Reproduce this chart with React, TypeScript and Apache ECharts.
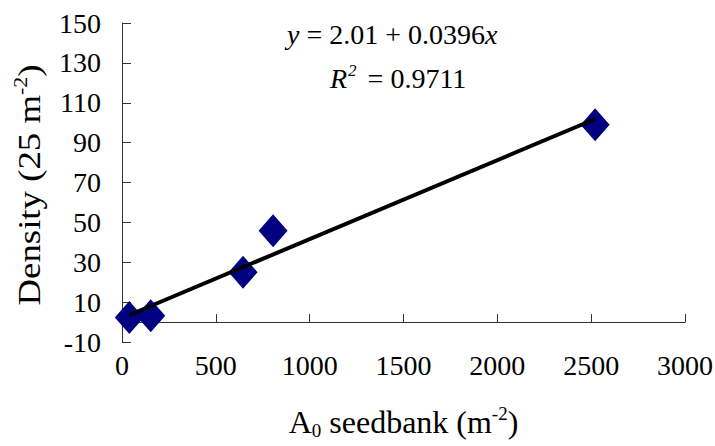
import React, { useEffect, useRef } from "react";
import * as echarts from "echarts";

// Seedbank density (m^-2) and observed plant density (per 25 m^2)
const seedbank = [39, 153, 645, 805, 2521];
const density = [2.3, 3.2, 25, 45.8, 99];

// Fitted linear regression
const intercept = 2.01;
const slope = 0.0396;
const rSquared = "0.9711";

const xTicks = [0, 500, 1000, 1500, 2000, 2500, 3000];
const yTicks = [-10, 10, 30, 50, 70, 90, 110, 130, 150];

const FONT = "Liberation Serif";

export default function App() {
  const ref = useRef<HTMLDivElement>(null);

  useEffect(() => {
    if (!ref.current) return;
    const chart = echarts.init(ref.current, undefined, { renderer: "svg" });

    const xMin = Math.min(...seedbank);
    const xMax = Math.max(...seedbank);
    const fitLine = [xMin, xMax].map((x) => [x, intercept + slope * x]);

    const tickText = { fontFamily: FONT, fontSize: 28, color: "#000" };
    const titleRich = {
      sup: { fontFamily: FONT, fontSize: 19, color: "#000", verticalAlign: "top", lineHeight: 36 },
      sub: { fontFamily: FONT, fontSize: 19, color: "#000", verticalAlign: "bottom", lineHeight: 36, padding: [6, 0, 0, 0] },
      n: { fontFamily: FONT, fontSize: 32, color: "#000", lineHeight: 36 },
    };
    const eqRich = {
      sup: { fontFamily: FONT, fontSize: 17, color: "#000", fontStyle: "italic", verticalAlign: "top", lineHeight: 32, padding: [0, 4, 0, 1] },
      it: { fontFamily: FONT, fontSize: 28, color: "#000", fontStyle: "italic", lineHeight: 32 },
      n: { fontFamily: FONT, fontSize: 28, color: "#000", lineHeight: 32 },
    };

    chart.setOption({
      animation: false,
      backgroundColor: "#fff",
      grid: {
        left: 122,
        right: 30,
        top: 23,
        bottom: 104,
        containLabel: false,
        outerBoundsMode: "none",
      },
      xAxis: {
        type: "value",
        min: 0,
        max: 3000,
        interval: 500,
        name: "{n|A}{sub|0}{n| seedbank (m}{sup|-2}{n|)}",
        nameLocation: "middle",
        nameGap: 62,
        nameTextStyle: { fontFamily: FONT, fontSize: 32, color: "#000", rich: titleRich },
        axisLine: { onZero: true, lineStyle: { color: "#333", width: 1 } },
        axisTick: { inside: true, length: 8, lineStyle: { color: "#333" }, customValues: xTicks },
        axisLabel: {
          ...tickText,
          margin: 9,
          customValues: xTicks,
          formatter: (v: number) => String(v),
        },
        splitLine: { show: false },
      },
      yAxis: {
        type: "value",
        min: -10,
        max: 150,
        axisLine: { show: true, lineStyle: { color: "#333", width: 1 } },
        axisTick: { show: true, inside: true, length: 9, lineStyle: { color: "#333" }, customValues: yTicks },
        axisLabel: {
          ...tickText,
          margin: 21,
          customValues: yTicks,
          formatter: (v: number) => String(v),
        },
        splitLine: { show: false },
      },
      graphic: [
        {
          // vertical axis title, read bottom to top
          type: "text",
          x: 29,
          y: 185,
          rotation: Math.PI / 2,
          scaleX: 1.15,
          style: {
            text: "{n|Density (25 m}{sup|-2}{n|)}",
            rich: titleRich,
            font: `32px ${FONT}`,
            align: "center",
            verticalAlign: "middle",
          },
        },
        {
          type: "text",
          left: 287,
          top: 20,
          style: {
            text: "{it|y}{n| = 2.01 + 0.0396}{it|x}",
            rich: eqRich,
            font: `28px ${FONT}`,
          },
        },
        {
          type: "text",
          left: 330,
          top: 62,
          style: {
            text: `{it|R}{sup|2}{n| = ${rSquared}}`,
            rich: eqRich,
            font: `28px ${FONT}`,
          },
        },
      ],
      series: [
        {
          type: "scatter",
          data: seedbank.map((x, i) => [x, density[i]]),
          symbol: "diamond",
          symbolSize: [29, 33],
          itemStyle: { color: "#000080", opacity: 1 },
          z: 2,
        },
        {
          type: "line",
          data: fitLine,
          showSymbol: false,
          symbol: "none",
          lineStyle: { color: "#000", width: 4 },
          z: 3,
        },
      ],
    });

    return () => chart.dispose();
  }, []);

  return (
    <div
      ref={ref}
      style={{ position: "fixed", left: 0, top: 0, width: 715, height: 446 }}
    />
  );
}
